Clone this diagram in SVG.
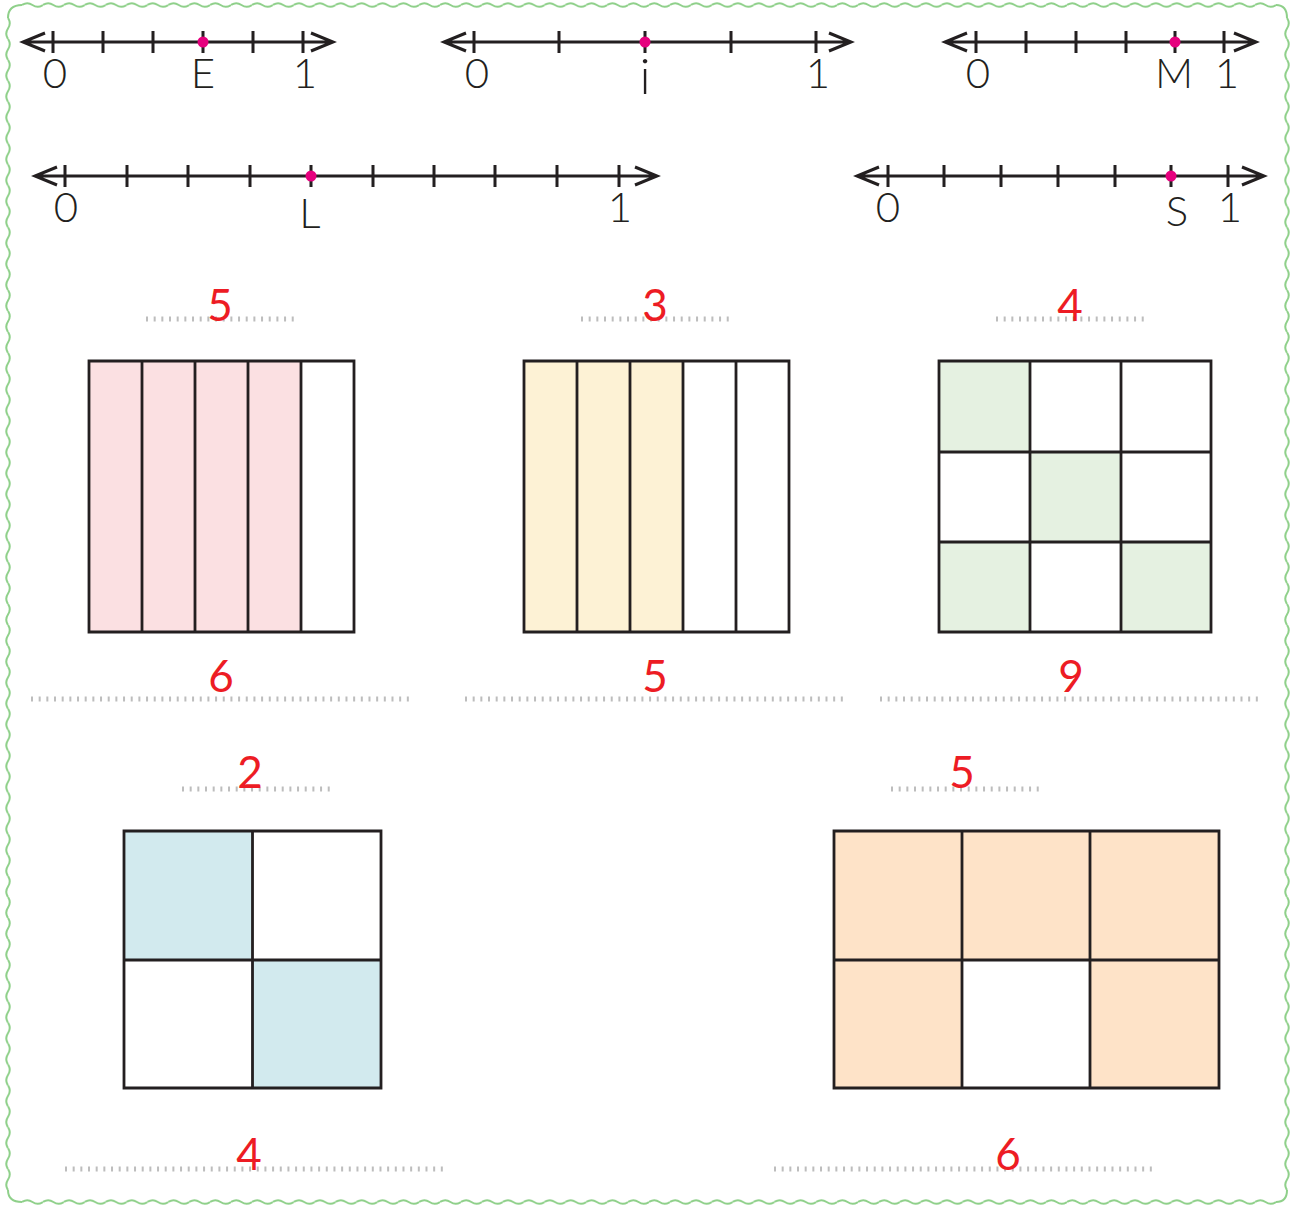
<svg xmlns="http://www.w3.org/2000/svg" width="1304" height="1207" viewBox="0 0 1304 1207">
<style>
.nl{stroke:#231f20;stroke-width:3;fill:none}
.dot{fill:#e6007e}
.lb{font-family:"Lato","Liberation Sans",Arial,sans-serif;font-weight:300;font-size:42px;fill:#231f20;text-anchor:middle}
.rd{font-family:"Lato","Liberation Sans",Arial,sans-serif;font-weight:400;font-size:44px;fill:#ed1c24;text-anchor:middle}
.dt{stroke:#bdbdbd;stroke-width:5;stroke-dasharray:2 5.67;fill:none}
.g{stroke:#231f20;stroke-width:2.8;fill:none}
.wv{stroke:#8fd08a;stroke-width:2;fill:none}
</style>
<defs>
<pattern id="wT" patternUnits="userSpaceOnUse" x="22" y="0" width="20.9" height="10"><path class="wv" d="M0,5 Q5.225,1.5 10.45,5 T20.9,5"/></pattern>
<pattern id="wB" patternUnits="userSpaceOnUse" x="22" y="1197" width="20.9" height="10"><path class="wv" d="M0,5 Q5.225,1.5 10.45,5 T20.9,5"/></pattern>
<pattern id="wL" patternUnits="userSpaceOnUse" x="3" y="18" width="10" height="20.93"><path class="wv" d="M5,0 Q8.5,5.232 5,10.465 T5,20.93"/></pattern>
<pattern id="wR" patternUnits="userSpaceOnUse" x="1282" y="18" width="10" height="20.93"><path class="wv" d="M5,0 Q8.5,5.232 5,10.465 T5,20.93"/></pattern>
</defs>
<rect width="1304" height="1207" fill="#ffffff"/>
<g id="border">
<rect x="22" y="0" width="1254" height="10" fill="url(#wT)"/>
<rect x="22" y="1197" width="1254" height="10" fill="url(#wB)"/>
<rect x="3" y="18" width="10" height="1172" fill="url(#wL)"/>
<rect x="1282" y="18" width="10" height="1172" fill="url(#wR)"/>
<path class="wv" d="M8,18 Q8,5 22,5 M1276,5 Q1287,5 1287,18 M1287,1190 Q1287,1202 1276,1202 M22,1202 Q8,1202 8,1190"/>
</g>
<g id="numberline-E">
<path class="nl" d="M23,42H333M45,33L23,42L45,51M311,33L333,42L311,51M53,31V53M103,31V53M153,31V53M203,31V53M253,31V53M303,31V53"/>
<circle class="dot" cx="203" cy="42" r="5.5"/>
<text class="lb" x="55" y="88">0</text><text class="lb" x="203" y="88">E</text><text class="lb" x="305" y="88">1</text>
</g>
<g id="numberline-i">
<path class="nl" d="M444,42H851M466,33L444,42L466,51M829,33L851,42L829,51M474,31V53M559,31V53M645,31V53M731,31V53M816,31V53"/>
<circle class="dot" cx="645" cy="42" r="5.5"/>
<text class="lb" x="477" y="88">0</text><text class="lb" x="645" y="94" style="font-size:50px">i</text><text class="lb" x="818" y="88">1</text>
</g>
<g id="numberline-M">
<path class="nl" d="M945,42H1256M967,33L945,42L967,51M1234,33L1256,42L1234,51M976,31V53M1026,31V53M1076,31V53M1126,31V53M1175,31V53M1224,31V53"/>
<circle class="dot" cx="1175" cy="42" r="5.5"/>
<text class="lb" x="978" y="88">0</text><text class="lb" x="1174" y="88">M</text><text class="lb" x="1227" y="88">1</text>
</g>
<g id="numberline-L">
<path class="nl" d="M35,176H657M57,167L35,176L57,185M635,167L657,176L635,185M65,165V187M127,165V187M188,165V187M250,165V187M311,165V187M373,165V187M434,165V187M495,165V187M557,165V187M619,165V187"/>
<circle class="dot" cx="311" cy="176" r="5.5"/>
<text class="lb" x="66" y="222">0</text><text class="lb" x="310" y="228">L</text><text class="lb" x="620" y="222">1</text>
</g>
<g id="numberline-S">
<path class="nl" d="M857,176H1264M879,167L857,176L879,185M1242,167L1264,176L1242,185M888,165V187M944,165V187M1001,165V187M1058,165V187M1115,165V187M1171,165V187M1228,165V187"/>
<circle class="dot" cx="1171" cy="176" r="5.5"/>
<text class="lb" x="888" y="222">0</text><text class="lb" x="1177" y="226">S</text><text class="lb" x="1230" y="222">1</text>
</g>
<g id="grid-pink">
<rect x="89" y="361" width="212" height="271" fill="#fbe0e2"/>
<path class="g" d="M89,361H354V632H89Z M142,361V632 M195,361V632 M248,361V632 M301,361V632"/>
<path class="dt" d="M146,319H297"/><text class="rd" x="220" y="321">5</text>
<path class="dt" d="M31,699H413"/><text class="rd" x="221" y="692">6</text>
</g>
<g id="grid-yellow">
<rect x="524" y="361" width="159" height="271" fill="#fdf2d5"/>
<path class="g" d="M524,361H789V632H524Z M577,361V632 M630,361V632 M683,361V632 M736,361V632"/>
<path class="dt" d="M581,319H732"/><text class="rd" x="655" y="321">3</text>
<path class="dt" d="M465,699H848"/><text class="rd" x="655" y="692">5</text>
</g>
<g id="grid-green">
<rect x="939" y="361" width="91" height="91" fill="#e5f1e1"/>
<rect x="1030" y="452" width="91" height="90" fill="#e5f1e1"/>
<rect x="939" y="542" width="91" height="90" fill="#e5f1e1"/>
<rect x="1121" y="542" width="90" height="90" fill="#e5f1e1"/>
<path class="g" d="M939,361H1211V632H939Z M1030,361V632 M1121,361V632 M939,452H1211 M939,542H1211"/>
<path class="dt" d="M996,319H1147"/><text class="rd" x="1070" y="321">4</text>
<path class="dt" d="M880,699H1262"/><text class="rd" x="1071" y="692">9</text>
</g>
<g id="grid-blue">
<rect x="124" y="831" width="128.5" height="129" fill="#d2eaee"/>
<rect x="252.5" y="960" width="128.5" height="128" fill="#d2eaee"/>
<path class="g" d="M124,831H381V1088H124Z M252.5,831V1088 M124,960H381"/>
<path class="dt" d="M182,789H332"/><text class="rd" x="250" y="788">2</text>
<path class="dt" d="M65,1169H448"/><text class="rd" x="249" y="1170">4</text>
</g>
<g id="grid-peach">
<path d="M834,831H1219V1088H1090V960H962V1088H834Z" fill="#fee3c8"/>
<path class="g" d="M834,831H1219V1088H834Z M962,831V1088 M1090,831V1088 M834,960H1219"/>
<path class="dt" d="M891,789H1041"/><text class="rd" x="962" y="788">5</text>
<path class="dt" d="M774,1169H1157"/><text class="rd" x="1008" y="1170">6</text>
</g>
</svg>
